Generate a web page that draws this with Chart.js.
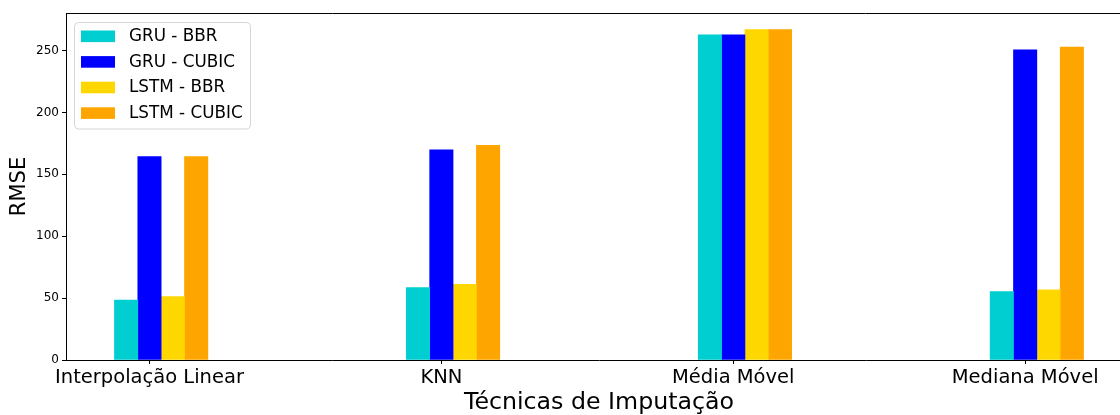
<!DOCTYPE html>
<html>
<head>
<meta charset="utf-8">
<script src="https://cdn.jsdelivr.net/npm/chart.js@4.4.1/dist/chart.umd.min.js"></script>
<style>
  html, body { margin: 0; padding: 0; background: #fff; overflow: hidden; }
  #wrap { width: 1120px; height: 415px; overflow: hidden; }
  canvas { display: block; }
</style>
</head>
<body>
<div id="wrap"><canvas id="c" width="1140" height="415"></canvas></div>
<script>
// Imputation techniques compared
const categories = ['Interpolação Linear', 'KNN', 'Média Móvel', 'Mediana Móvel'];

// RMSE per technique, one array per model / congestion-control pair
const gruBbr    = [48.5, 58.4, 262.7, 55.2];
const gruCubic  = [164.3, 169.7, 262.7, 250.6];
const lstmBbr   = [51.2, 61.2, 267.0, 56.6];
const lstmCubic = [164.3, 173.5, 267.0, 252.7];

const seriesLabels = ['GRU - BBR', 'GRU - CUBIC', 'LSTM - BBR', 'LSTM - CUBIC'];
const seriesColors = ['#00CED1', '#0000FF', '#FFD700', '#FFA500'];
const yTicks = [0, 50, 100, 150, 200, 250];

const BAR_W = 0.08;           // bar width in category units
const FONT = "'DejaVu Sans', sans-serif";

const seriesValues = [gruBbr, gruCubic, lstmBbr, lstmCubic];
const datasets = seriesValues.map((vals, k) => ({
  label: seriesLabels[k],
  backgroundColor: seriesColors[k],
  borderWidth: 0,
  data: vals.map((v, i) => ({ x: i + (k - 1) * BAR_W, y: v }))
}));

// Top/right spines
const frame = {
  id: 'frame',
  afterDatasetsDraw(chart) {
    const { ctx, chartArea: a } = chart;
    ctx.save();
    ctx.strokeStyle = '#000';
    ctx.lineWidth = 1;
    ctx.beginPath();
    ctx.moveTo(a.left, a.top + 0.5);
    ctx.lineTo(a.right, a.top + 0.5);
    ctx.moveTo(a.right - 0.5, a.top);
    ctx.lineTo(a.right - 0.5, a.bottom);
    ctx.stroke();
    ctx.restore();
  }
};

// Boxed legend in the upper-left corner of the plot
const boxLegend = {
  id: 'boxLegend',
  afterDraw(chart) {
    const { ctx, chartArea: a } = chart;
    const x0 = a.left + 8.5, y0 = a.top + 9.5, w = 176, h = 106.5, r = 4;
    ctx.save();
    ctx.beginPath();
    ctx.roundRect(x0, y0, w, h, r);
    ctx.fillStyle = 'rgba(255,255,255,0.8)';
    ctx.fill();
    ctx.strokeStyle = 'rgba(204,204,204,0.8)';
    ctx.lineWidth = 1;
    ctx.stroke();
    ctx.font = '16.8px ' + FONT;
    ctx.textBaseline = 'middle';
    ctx.textAlign = 'left';
    chart.data.datasets.forEach((ds, k) => {
      const cy = a.top + 23.3 + k * 25.6;
      ctx.fillStyle = ds.backgroundColor;
      ctx.fillRect(a.left + 15, cy - 5.8, 34, 11.6);
      ctx.fillStyle = '#000';
      ctx.fillText(ds.label, a.left + 63, cy + 0.5);
    });
    ctx.restore();
  }
};

new Chart(document.getElementById('c'), {
  type: 'bar',
  data: { datasets },
  plugins: [frame, boxLegend],
  options: {
    responsive: false,
    animation: false,
    devicePixelRatio: 1,
    grouped: false,
    categoryPercentage: 1,
    barPercentage: 1,
    layout: { padding: { top: 13, right: 8, left: 0, bottom: 0 } },
    plugins: { legend: { display: false }, tooltip: { enabled: false } },
    scales: {
      x: {
        type: 'linear',
        offset: false,
        min: -0.286,
        max: 3.366,
        afterFit(s) { s.height = 55; },
        afterBuildTicks(s) { s.ticks = categories.map((_, i) => ({ value: i })); },
        ticks: {
          color: '#000',
          padding: 2,
          maxRotation: 0,
          autoSkip: false,
          font: { family: FONT, size: 19.5 },
          callback: (v) => categories[v] ?? ''
        },
        grid: { display: true, offset: false, drawOnChartArea: false, drawTicks: true, tickLength: 4, color: '#000' },
        border: { display: true, color: '#000', width: 1 },
        title: {
          display: true,
          text: 'Técnicas de Imputação',
          color: '#000',
          font: { family: FONT, size: 23.7, lineHeight: 1 },
          padding: { top: 0, bottom: 0 }
        }
      },
      y: {
        min: 0,
        max: 280.3,
        afterFit(s) { s.width = 66; },
        afterBuildTicks(s) { s.ticks = yTicks.map(v => ({ value: v })); },
        ticks: {
          color: '#000',
          padding: 3,
          font: { family: FONT, size: 12 }
        },
        grid: { display: true, drawOnChartArea: false, drawTicks: true, tickLength: 4, color: '#000' },
        border: { display: true, color: '#000', width: 1 },
        title: {
          display: true,
          text: 'RMSE',
          color: '#000',
          font: { family: FONT, size: 21 },
          padding: { top: 7, bottom: 0 }
        }
      }
    }
  }
});
</script>
</body>
</html>
